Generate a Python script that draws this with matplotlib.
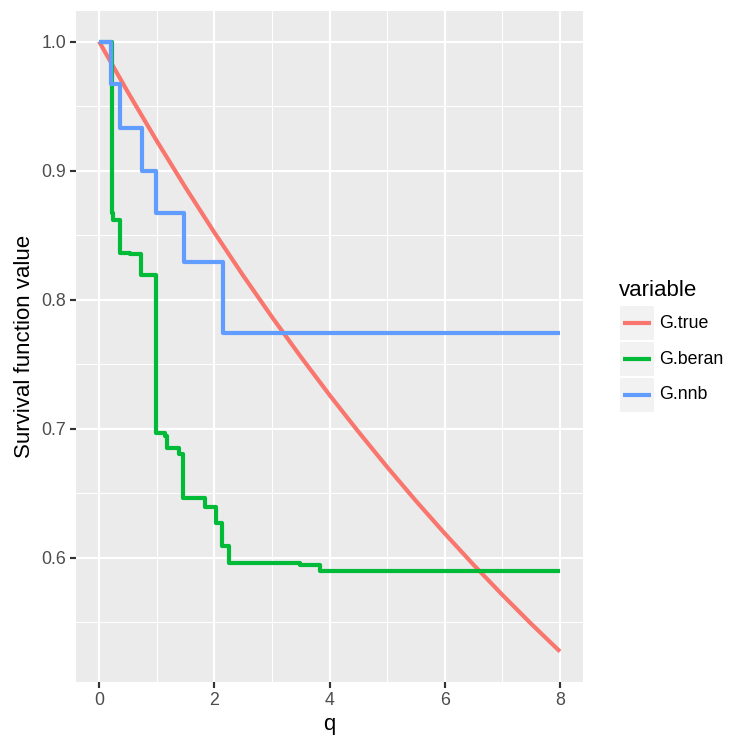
import matplotlib
matplotlib.use("Agg")
import matplotlib.pyplot as plt
from matplotlib.patches import Rectangle
from matplotlib.lines import Line2D

plt.rcParams['font.family'] = ['Liberation Sans', 'DejaVu Sans']

# ---- data ----
q_true = [0, 0.5, 1, 1.5, 2, 2.5, 3, 3.5, 4, 4.5, 5, 5.5, 6, 6.5, 7, 7.5, 8]
g_true = [1.0000, 0.9608, 0.9231, 0.8869, 0.8521, 0.8187, 0.7866, 0.7558, 0.7261,
          0.6977, 0.6703, 0.6440, 0.6188, 0.5945, 0.5712, 0.5488, 0.5273]

q_beran = [0, 0.22, 0.25, 0.365, 0.54, 0.73, 0.99, 1.146, 1.18, 1.39, 1.458,
           1.84, 2.03, 2.135, 2.257, 3.49, 3.84, 8]
g_beran = [1.000, 0.867, 0.862, 0.836, 0.835, 0.819, 0.697, 0.694, 0.685, 0.680,
           0.646, 0.639, 0.627, 0.609, 0.596, 0.5945, 0.590, 0.590]

q_nnb = [0, 0.21, 0.365, 0.75, 0.99, 1.48, 2.15, 8]
g_nnb = [1.000, 0.967, 0.933, 0.900, 0.867, 0.829, 0.774, 0.774]

series_names = ["G.true", "G.beran", "G.nnb"]
colors = ["#F8766D", "#00BA38", "#619CFF"]
x_ticks = [0, 2, 4, 6, 8]
y_ticks = [0.6, 0.7, 0.8, 0.9, 1.0]

# ---- figure ----
W = H = 750
fig = plt.figure(figsize=(7.5, 7.5), dpi=100)
L, R, T, B = 76, 583, 11, 682
ax = fig.add_axes([L / W, 1 - B / H, (R - L) / W, (B - T) / H])
ax.set_facecolor("#EBEBEB")
for s in ax.spines.values():
    s.set_visible(False)

ax.set_xlim(-0.4, 8.4)
ymin, ymax = min(g_true), 1.0
pad = (ymax - ymin) * 0.05
ax.set_ylim(ymin - pad, ymax + pad)

ax.set_xticks(x_ticks)
ax.set_xticklabels([str(v) for v in x_ticks])
ax.set_yticks(y_ticks)
ax.set_yticklabels([f"{v:.1f}" for v in y_ticks])
ax.set_xticks([1, 3, 5, 7], minor=True)
ax.set_yticks([0.55, 0.65, 0.75, 0.85, 0.95], minor=True)
ax.grid(True, which="major", color="white", linewidth=1.55)
ax.grid(True, which="minor", color="white", linewidth=0.78)
ax.set_axisbelow(True)
ax.tick_params(which="major", length=4, width=1.55, color="#333333",
               labelcolor="#4D4D4D", labelsize=12.8, pad=3)
ax.tick_params(which="minor", length=0)

lw = 3.0
ax.plot(q_true, g_true, color=colors[0], lw=lw, solid_capstyle="butt")
ax.plot(q_beran, g_beran, color=colors[1], lw=lw, drawstyle="steps-post",
        solid_capstyle="butt", solid_joinstyle="round")
ax.plot(q_nnb, g_nnb, color=colors[2], lw=lw, drawstyle="steps-post",
        solid_capstyle="butt", solid_joinstyle="round")

ax.set_xlabel("q", fontsize=16, labelpad=4)
ax.set_ylabel("Survival function value", fontsize=16, labelpad=5)

# ---- legend (ggplot style) ----
fig.text(619 / W, 1 - 290 / H, "variable", fontsize=16, va="center", ha="left")
key_x0, key_w, key_h = 620, 34, 34
for i, (name, c) in enumerate(zip(series_names, colors)):
    yc = 323 + 36 * i
    fig.patches.append(Rectangle((key_x0 / W, 1 - (yc + key_h / 2) / H),
                                 key_w / W, key_h / H, transform=fig.transFigure,
                                 facecolor="#F2F2F2", edgecolor="none"))
    fig.lines.append(Line2D([(key_x0 + 3) / W, (key_x0 + key_w - 3) / W],
                            [1 - yc / H, 1 - yc / H], transform=fig.transFigure,
                            color=c, lw=lw, solid_capstyle="butt"))
    fig.text(659 / W, 1 - yc / H, name, fontsize=12.8, va="center", ha="left")

fig.savefig("out.png", dpi=100)
